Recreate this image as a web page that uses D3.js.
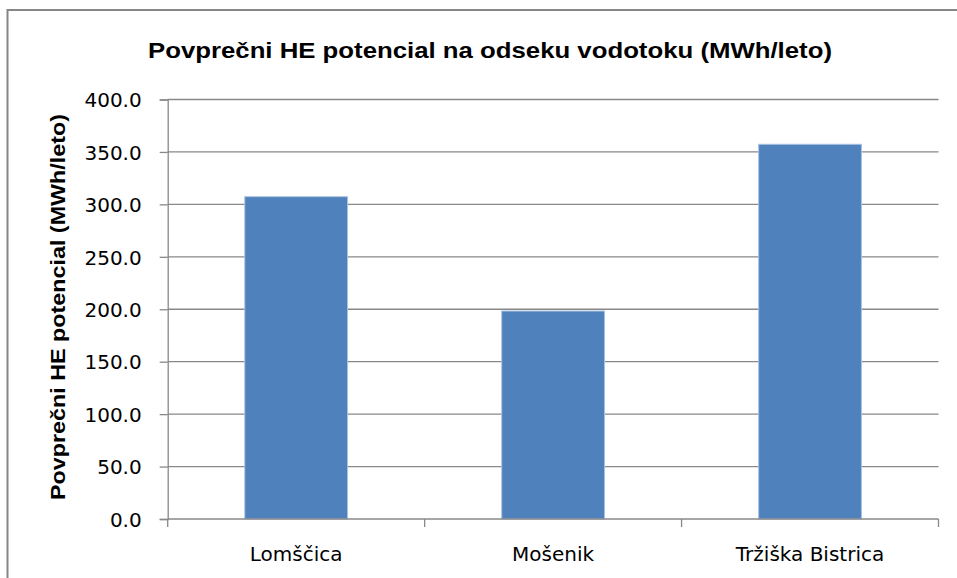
<!DOCTYPE html>
<html>
<head>
<meta charset="utf-8">
<script src="https://cdn.jsdelivr.net/npm/d3@7"></script>
<style>
  html, body { margin: 0; padding: 0; background: #fff; }
  svg { display: block; }
</style>
</head>
<body>
<svg id="chart" width="957" height="578"></svg>
<script>
const categories = ["Lomščica", "Mošenik", "Tržiška Bistrica"];
const values = [307.3, 198.3, 357.3];
const yTicks = [0, 50, 100, 150, 200, 250, 300, 350, 400];
const titleText = "Povprečni HE potencial na odseku vodotoku (MWh/leto)";
const yAxisTitle = "Povprečni HE potencial (MWh/leto)";

const svg = d3.select("#chart");
const W = 957, H = 578;
const m = { left: 167.7, right: 938.5, top: 99.5, bottom: 519 };

// chart border (extends beyond the right/bottom edge)
svg.append("rect")
  .attr("x", 7.5).attr("y", 10).attr("width", 1000).attr("height", 700)
  .attr("fill", "#fff").attr("stroke", "#868686").attr("stroke-width", 2);

const x = d3.scaleBand().domain(categories).range([m.left, m.right]).paddingInner(0.6).paddingOuter(0.3);
const y = d3.scaleLinear().domain([0, 400]).range([m.bottom, m.top]);

// gridlines
svg.append("g").selectAll("line").data(yTicks.filter(d => d > 0)).join("line")
  .attr("x1", m.left).attr("x2", m.right)
  .attr("y1", d => y(d)).attr("y2", d => y(d))
  .attr("stroke", "#888").attr("stroke-width", 1.3);

// bars
svg.append("g").selectAll("rect").data(values).join("rect")
  .attr("x", (d, i) => x(categories[i]))
  .attr("width", x.bandwidth())
  .attr("y", d => y(d))
  .attr("height", d => y(0) - y(d))
  .attr("fill", "#4F81BD")
  .attr("stroke", "#A9C1E0").attr("stroke-width", 1);

// y axis
const yAxis = d3.axisLeft(y).tickValues(yTicks).tickFormat(d3.format(".1f")).tickSize(8).tickPadding(18);
const gy = svg.append("g").attr("transform", `translate(${m.left},0)`).call(yAxis);
gy.select(".domain").attr("stroke", "#888").attr("stroke-width", 1.3);
gy.selectAll(".tick line").attr("stroke", "#888").attr("stroke-width", 1.3);
gy.selectAll(".tick text").attr("font-family", "DejaVu Sans").attr("font-size", 20).attr("fill", "#000").attr("dy", "0.36em");

// x axis
const xPos = d3.scaleOrdinal().domain(categories).range(categories.map(c => x(c) + x.bandwidth() / 2));
const gx = svg.append("g").attr("transform", `translate(0,${m.bottom})`);
gx.append("line").attr("x1", m.left).attr("x2", m.right).attr("stroke", "#888").attr("stroke-width", 1.3);
const step = x.step();
const boundaries = d3.range(categories.length + 1).map(i => m.left + i * (m.right - m.left) / categories.length);
gx.selectAll("line.tk").data(boundaries).join("line").attr("class", "tk")
  .attr("x1", d => d).attr("x2", d => d).attr("y1", 0).attr("y2", 8)
  .attr("stroke", "#888").attr("stroke-width", 1.3);
gx.selectAll("text").data(categories).join("text")
  .attr("x", d => xPos(d)).attr("y", 42)
  .attr("text-anchor", "middle")
  .attr("font-family", "DejaVu Sans").attr("font-size", 20).attr("fill", "#000")
  .text(d => d);

// title
svg.append("text")
  .attr("x", 490).attr("y", 58)
  .attr("text-anchor", "middle")
  .attr("font-family", "Liberation Sans").attr("font-weight", "bold").attr("font-size", 22)
  .attr("textLength", 684).attr("lengthAdjust", "spacingAndGlyphs")
  .attr("fill", "#000")
  .text(titleText);

// y axis title
svg.append("text")
  .attr("transform", "translate(65,307) rotate(-90)")
  .attr("text-anchor", "middle")
  .attr("font-family", "Liberation Sans").attr("font-weight", "bold").attr("font-size", 20)
  .attr("textLength", 386).attr("lengthAdjust", "spacingAndGlyphs")
  .attr("fill", "#000")
  .text(yAxisTitle);
</script>
</body>
</html>
